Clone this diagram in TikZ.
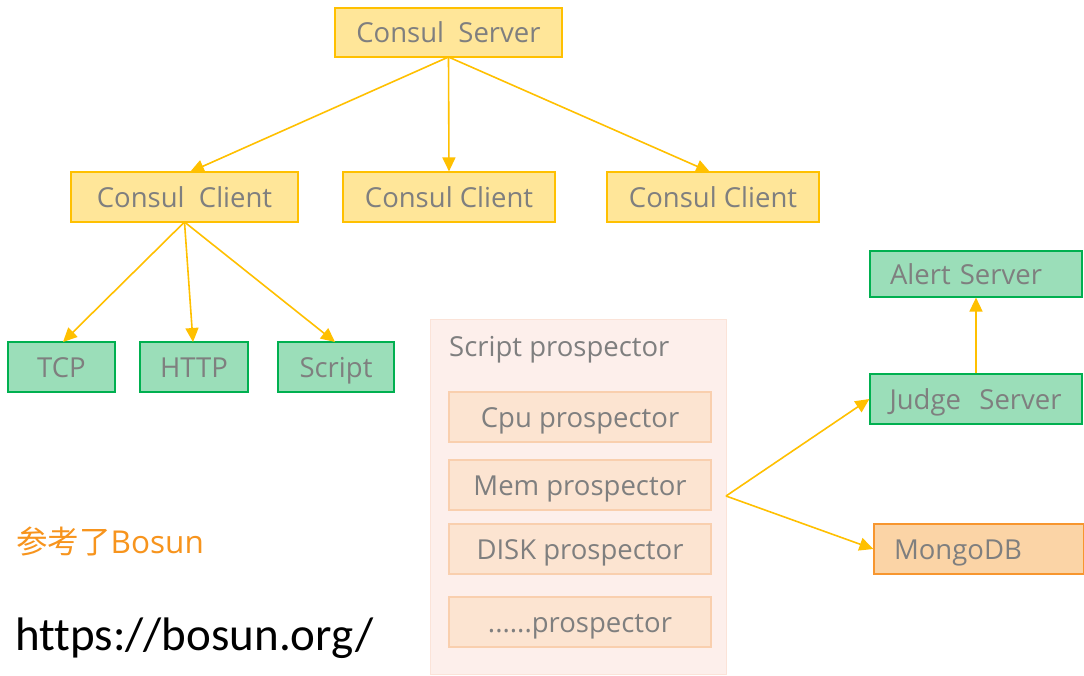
\documentclass[tikz,border=0pt]{standalone}
\usepackage{fontspec}
\setmainfont{Open Sans}
\newfontfamily\cjk{Noto Sans CJK SC}
\newfontfamily\urlfont[Ligatures=NoCommon]{Carlito}
\usetikzlibrary{arrows.meta}
\definecolor{txtgray}{HTML}{7F7F7F}
\definecolor{yfill}{HTML}{FFE699}
\definecolor{ydraw}{HTML}{FFC000}
\definecolor{gfill}{HTML}{9BDEB9}
\definecolor{gdraw}{HTML}{00B050}
\definecolor{cfill}{HTML}{FDEFEB}
\definecolor{cdraw}{HTML}{FBE3D8}
\definecolor{pfill}{HTML}{FCE4D1}
\definecolor{pdraw}{HTML}{F9CFAE}
\definecolor{ofill}{HTML}{FBD4A6}
\definecolor{odraw}{HTML}{F7962F}
\definecolor{orangetxt}{HTML}{F7941D}
\tikzset{
  base/.style={rectangle, line width=1.2pt, text=txtgray, font=\fontsize{27.5}{30}\selectfont, inner sep=0pt, minimum height=50pt, text height=20pt, text depth=0pt},
  ybox/.style={base, fill=yfill, draw=ydraw},
  gbox/.style={base, fill=gfill, draw=gdraw},
  pbox/.style={base, fill=pfill, draw=pdraw, minimum width=262pt},
  obox/.style={base, fill=ofill, draw=odraw},
  conn/.style={draw=ydraw, line width=1.6pt, -{Triangle[length=14pt,width=13pt]}},
}
\begin{document}
\begin{tikzpicture}[x=1pt,y=-1pt]
\useasboundingbox[fill=white] (0,0) rectangle (1084,675);
% top tier
\node[ybox, minimum width=227pt, minimum height=49pt] (cs) at (448.5,32.5) {Consul\ \ Server};
\node[ybox, minimum width=227pt] (cc1) at (184.5,197) {Consul\ \ Client};
\node[ybox, minimum width=212pt] (cc2) at (449,197) {Consul Client};
\node[ybox, minimum width=212pt] (cc3) at (713,197) {Consul Client};
% checks
\node[gbox, minimum width=107pt] (tcp) at (61.5,367) {TCP};
\node[gbox, minimum width=108pt] (http) at (194,367) {HTTP};
\node[gbox, minimum width=116pt] (script) at (336,367) {Script};
% container
\node[rectangle, fill=cfill, draw=cdraw, line width=1pt, minimum width=296pt, minimum height=355pt] (cont) at (578,496.5) {};
\node[anchor=base west, text=txtgray, font=\fontsize{27.5}{30}\selectfont, inner sep=0pt] (ctitle) at (449,356) {Script prospector};
\node[pbox] (cpu) at (580,417) {Cpu prospector};
\node[pbox] (mem) at (580,485) {Mem prospector};
\node[pbox] (disk) at (580,549) {DISK prospector};
\node[pbox] (more) at (580,622) {......prospector};
% right side
\node[gbox, minimum height=46pt, text width=172pt, inner xsep=20pt, align=left] (alert) at (976,274) {Alert Server};
\node[gbox, text width=173pt, inner xsep=19.5pt, align=left] (judge) at (976,399) {Judge\ \ Server};
\node[obox, text width=170pt, inner xsep=20pt, align=left] (mongo) at (979,549) {MongoDB};
\coordinate (split) at (726,496);
% texts
\node[anchor=base west, inner sep=0pt, text=orangetxt, font=\fontsize{31.5}{34}\selectfont] (ref) at (16,553) {{\cjk 参考了}Bosun};
\node[anchor=base west, inner sep=0pt, text=black, font=\urlfont\fontsize{47}{50}\selectfont] (url) at (15,650) {https://bosun.org/};
% connectors
\coordinate (csb) at (448.5,57);
\draw[conn] (csb) -- (190,172);
\draw[conn] (csb) -- (cc2.north);
\draw[conn] (csb) -- (710,172);
\coordinate (cc1b) at (184.5,222);
\draw[conn] (cc1b) -- (63,342);
\draw[conn] (cc1b) -- (193,342);
\draw[conn] (cc1b) -- (335,342);
\draw[conn] (split) -- (judge.west);
\draw[conn] (split) -- (mongo.west);
\draw[conn] (judge.north) -- (alert.south);
\end{tikzpicture}
\end{document}
